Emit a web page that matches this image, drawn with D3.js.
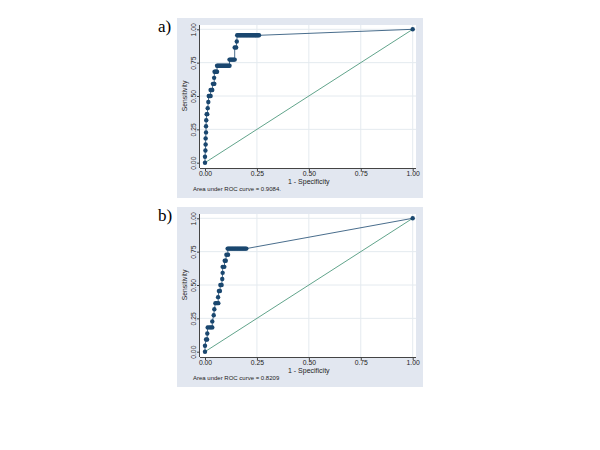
<!DOCTYPE html>
<html>
<head>
<meta charset="utf-8">
<script src="https://cdn.jsdelivr.net/npm/d3@7"></script>
<style>
  body { margin: 0; background: #fff; }
  svg { display: block; }
</style>
</head>
<body>
<svg width="600" height="450"></svg>
<script>
// ROC points: 1 - specificity (x) and sensitivity (y)
const rocA_x = [0, 0, 0.002, 0.003, 0.003, 0.005, 0.005, 0.006, 0.008, 0.011, 0.013, 0.016,
  0.018, 0.022, 0.027, 0.027, 0.032, 0.035, 0.038, 0.042, 0.045, 0.044,
  0.046, 0.050, 0.054, 0.058,
  0.058, 0.063, 0.068, 0.073, 0.078, 0.083, 0.088, 0.093, 0.098, 0.103, 0.108, 0.113, 0.118,
  0.118, 0.123, 0.128, 0.133, 0.138, 0.143,
  0.143, 0.150, 0.153,
  0.155, 0.160, 0.165, 0.170, 0.175, 0.180, 0.185, 0.190, 0.195, 0.200, 0.205, 0.210, 0.215,
  0.220, 0.225, 0.230, 0.235, 0.240, 0.245, 0.250, 0.255, 0.260,
  1];
const rocA_y = [0, 0.045, 0.091, 0.136, 0.182, 0.227, 0.273, 0.318, 0.364, 0.364, 0.409, 0.455,
  0.5, 0.5, 0.5, 0.545, 0.545, 0.545, 0.591, 0.591, 0.591, 0.636,
  0.682, 0.682, 0.682, 0.682,
  0.727, 0.727, 0.727, 0.727, 0.727, 0.727, 0.727, 0.727, 0.727, 0.727, 0.727, 0.727, 0.727,
  0.773, 0.773, 0.773, 0.773, 0.773, 0.773,
  0.864, 0.864, 0.909,
  0.955, 0.955, 0.955, 0.955, 0.955, 0.955, 0.955, 0.955, 0.955, 0.955, 0.955, 0.955, 0.955,
  0.955, 0.955, 0.955, 0.955, 0.955, 0.955, 0.955, 0.955, 0.955,
  1];

const rocB_x = [0, 0, 0.005, 0.010, 0.011, 0.013, 0.021, 0.029, 0.035, 0.035, 0.042, 0.045,
  0.050, 0.057, 0.064, 0.063, 0.067, 0.072, 0.074, 0.080, 0.083, 0.085, 0.085, 0.093,
  0.095, 0.100, 0.103, 0.111,
  0.109, 0.114, 0.119, 0.124, 0.129, 0.134, 0.139, 0.144, 0.149, 0.154, 0.159, 0.164,
  0.169, 0.174, 0.179, 0.184, 0.189, 0.194, 0.199,
  1];
const rocB_y = [0, 0.045, 0.091, 0.091, 0.136, 0.182, 0.182, 0.182, 0.182, 0.227, 0.273, 0.318,
  0.364, 0.364, 0.364, 0.409, 0.455, 0.455, 0.5, 0.5, 0.545, 0.591, 0.636, 0.636,
  0.682, 0.682, 0.727, 0.727,
  0.773, 0.773, 0.773, 0.773, 0.773, 0.773, 0.773, 0.773, 0.773, 0.773, 0.773, 0.773,
  0.773, 0.773, 0.773, 0.773, 0.773, 0.773, 0.773,
  1];

const tickValues = [0, 0.25, 0.5, 0.75, 1];
const panelLabels = ["a)", "b)"];
const aucTexts = ["Area under ROC curve = 0.9084.", "Area under ROC curve = 0.8209"];

const svg = d3.select("svg");

const navy = "#1a476f";
const diagColor = "#4f9a7e";
const bgColor = "#e2e7f0";
const gridColor = "#e4eaef";
const font = "Liberation Sans, Arial, sans-serif";

function drawPanel(top, xs, ys, label, aucText) {
    const g = svg.append("g").attr("transform", "translate(0," + top + ")");

    // outer graph region
    g.append("rect")
        .attr("x", 177).attr("y", 18)
        .attr("width", 246).attr("height", 180)
        .attr("fill", bgColor);

    // plot region
    g.append("rect")
        .attr("x", 200).attr("y", 25)
        .attr("width", 216).attr("height", 143)
        .attr("fill", "#fff");

    const xScale = d3.scaleLinear().domain([0, 1]).range([205, 412.7]);
    const yScale = d3.scaleLinear().domain([0, 1]).range([162.7, 29.3]);

    // grid lines
    g.selectAll(".hgrid").data(tickValues.slice(1)).enter().append("line")
        .attr("x1", 200).attr("x2", 416)
        .attr("y1", d => yScale(d)).attr("y2", d => yScale(d))
        .attr("stroke", gridColor).attr("stroke-width", 1);
    g.selectAll(".vgrid").data(tickValues.slice(1)).enter().append("line")
        .attr("y1", 25).attr("y2", 168)
        .attr("x1", d => xScale(d)).attr("x2", d => xScale(d))
        .attr("stroke", gridColor).attr("stroke-width", 1);

    // axes
    const fmt = d3.format(".2f");
    const xAxis = g.append("g").attr("transform", "translate(0,168)")
        .call(d3.axisBottom(xScale).tickValues(tickValues).tickFormat(fmt).tickSize(3).tickSizeOuter(0));
    xAxis.select(".domain").attr("d", "M200,0.5H416").attr("stroke", "#444");
    xAxis.selectAll(".tick line").attr("stroke", "#444");
    xAxis.selectAll("text")
        .attr("font-family", font)
        .attr("font-size", 6.8).attr("fill", "#222").attr("dy", "0.55em").attr("y", 4);

    const yAxis = g.append("g").attr("transform", "translate(200,0)")
        .call(d3.axisLeft(yScale).tickValues(tickValues).tickFormat(fmt).tickSize(3).tickSizeOuter(0));
    yAxis.select(".domain").attr("d", "M-0.5,25V168").attr("stroke", "#444");
    yAxis.selectAll(".tick line").attr("stroke", "#444");
    yAxis.selectAll("text")
        .attr("font-family", font)
        .attr("font-size", 6.8).attr("fill", "#222")
        .attr("x", null).attr("dy", null)
        .attr("text-anchor", "middle")
        .attr("transform", "translate(-4.5,0) rotate(-90)");

    // axis titles
    g.append("text")
        .attr("x", 308.8).attr("y", 183.5)
        .attr("text-anchor", "middle")
        .attr("font-family", font)
        .attr("font-size", 7).attr("fill", "#222")
        .text("1 - Specificity");
    g.append("text")
        .attr("transform", "translate(187," + ((29.3 + 162.7) / 2) + ") rotate(-90)")
        .attr("text-anchor", "middle")
        .attr("font-family", font)
        .attr("font-size", 6.8).attr("fill", "#222")
        .text("Sensitivity");

    // reference diagonal
    g.append("line")
        .attr("x1", xScale(0)).attr("y1", yScale(0))
        .attr("x2", xScale(1)).attr("y2", yScale(1))
        .attr("stroke", diagColor).attr("stroke-width", 0.9);

    const pts = xs.map((x, i) => [x, ys[i]]);

    // ROC curve
    g.append("path")
        .datum(pts)
        .attr("d", d3.line().x(d => xScale(d[0])).y(d => yScale(d[1])))
        .attr("fill", "none")
        .attr("stroke", navy).attr("stroke-width", 0.8);

    g.selectAll(".pt").data(pts).enter().append("circle")
        .attr("cx", d => xScale(d[0]))
        .attr("cy", d => yScale(d[1]))
        .attr("r", 2.2)
        .attr("fill", navy);

    // note
    g.append("text")
        .attr("x", 193).attr("y", 190.5)
        .attr("font-family", font)
        .attr("font-size", 6).attr("fill", "#222")
        .text(aucText);

    // panel label
    g.append("text")
        .attr("x", 158).attr("y", 32)
        .attr("font-family", "Liberation Serif, Times New Roman, serif")
        .attr("font-size", 17).attr("fill", "#000")
        .text(label);
}

drawPanel(0, rocA_x, rocA_y, panelLabels[0], aucTexts[0]);
drawPanel(189, rocB_x, rocB_y, panelLabels[1], aucTexts[1]);
</script>
</body>
</html>
